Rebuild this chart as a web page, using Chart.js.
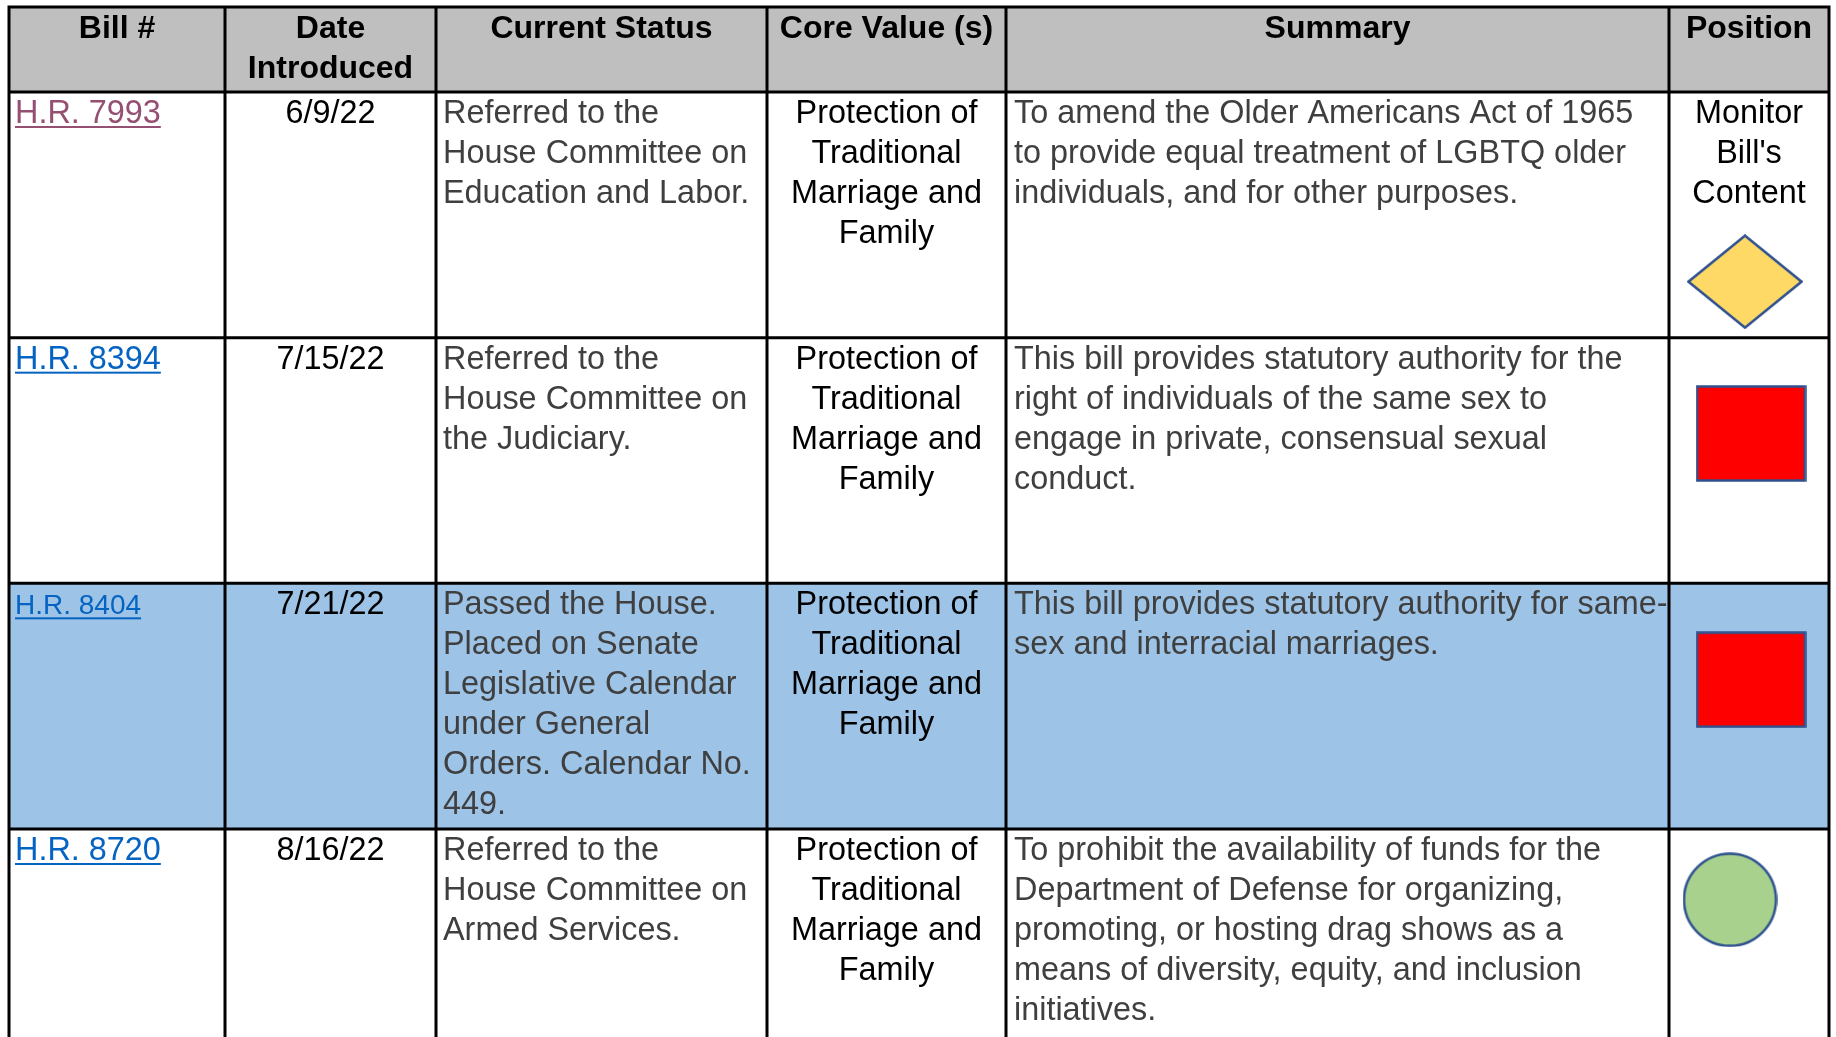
<!DOCTYPE html>
<html>
<head>
<meta charset="utf-8">
<title>Bills</title>
<script src="https://cdn.jsdelivr.net/npm/chart.js@4.4.1/dist/chart.umd.min.js"></script>
<style>
  html, body { margin: 0; padding: 0; background: #fff; }
  #wrap { width: 1836px; height: 1037px; }
</style>
</head>
<body>
<div id="wrap"><canvas id="myChart"></canvas></div>
<script>
// table content
var headers = ['Bill #', 'Date\nIntroduced', 'Current Status', 'Core Value (s)', 'Summary', 'Position'];
var bills = ['H.R. 7993', 'H.R. 8394', 'H.R. 8404', 'H.R. 8720'];
var billVisited = [true, false, false, false];
var dates = ['6/9/22', '7/15/22', '7/21/22', '8/16/22'];
var statuses = [
  'Referred to the\nHouse Committee on\nEducation and Labor.',
  'Referred to the\nHouse Committee on\nthe Judiciary.',
  'Passed the House.\nPlaced on Senate\nLegislative Calendar\nunder General\nOrders. Calendar No.\n449.',
  'Referred to the\nHouse Committee on\nArmed Services.'
];
var coreValues = [
  'Protection of\nTraditional\nMarriage and\nFamily',
  'Protection of\nTraditional\nMarriage and\nFamily',
  'Protection of\nTraditional\nMarriage and\nFamily',
  'Protection of\nTraditional\nMarriage and\nFamily'
];
var summaries = [
  'To amend the Older Americans Act of 1965\nto provide equal treatment of LGBTQ older\nindividuals, and for other purposes.',
  'This bill provides statutory authority for the\nright of individuals of the same sex to\nengage in private, consensual sexual\nconduct.',
  'This bill provides statutory authority for same-\nsex and interracial marriages.',
  'To prohibit the availability of funds for the\nDepartment of Defense for organizing,\npromoting, or hosting drag shows as a\nmeans of diversity, equity, and inclusion\ninitiatives.'
];
var positionText = ['Monitor\nBill\'s\nContent', '', '', ''];
var positions = ['monitor', 'oppose', 'oppose', 'support'];
var highlighted = [false, false, true, false];

// layout (pixels along x, row units along y)
var colEdges = [9, 225, 436, 767, 1006, 1669, 1829];
var colAlign = ['left', 'center', 'left', 'center', 'left', 'center'];
var headerHeight = 0.346;
var markerDx = [-4, 2, 2, -19];
var markerDy = [0.772, 0.39, 0.392, 0.288];

var FONT = '"Liberation Sans", Arial, sans-serif';
var BODY = '32.4px ' + FONT;

function makeMarker(kind) {
  var c = document.createElement('canvas');
  var w, h;
  if (kind === 'monitor') { w = 116; h = 95; }
  else if (kind === 'oppose') { w = 111; h = 97; }
  else { w = 95; h = 95; }
  c.width = w; c.height = h;
  var g = c.getContext('2d');
  g.lineWidth = 2.5;
  g.strokeStyle = '#2F528F';
  g.beginPath();
  if (kind === 'monitor') {
    g.fillStyle = '#FFD966';
    g.moveTo(w / 2, 1.5); g.lineTo(w - 1.5, h / 2); g.lineTo(w / 2, h - 1.5); g.lineTo(1.5, h / 2);
    g.closePath();
  } else if (kind === 'oppose') {
    g.fillStyle = '#FF0000';
    g.rect(1.5, 1.5, w - 3, h - 3);
  } else {
    g.fillStyle = '#A9D18E';
    g.ellipse(w / 2, h / 2, w / 2 - 1.5, h / 2 - 1.5, 0, 0, Math.PI * 2);
  }
  g.fill();
  g.stroke();
  return c;
}

var markerImgs = {};
['monitor', 'oppose', 'support'].forEach(function (k) { markerImgs[k] = makeMarker(k); });

var markerData = positions.map(function (p, i) {
  return { x: (colEdges[5] + colEdges[6]) / 2 + markerDx[i], y: i + markerDy[i] };
});

var tablePlugin = {
  id: 'table',
  beforeDatasetsDraw: function (chart) {
    var ctx = chart.ctx;
    var xs = chart.scales.x, ys = chart.scales.y;
    var px = function (v) { return xs.getPixelForValue(v); };
    var py = function (v) { return ys.getPixelForValue(v); };
    var left = px(colEdges[0]), right = px(colEdges[colEdges.length - 1]);
    var nRows = bills.length;

    ctx.save();
    // backgrounds
    ctx.fillStyle = '#BFBFBF';
    ctx.fillRect(left, py(-headerHeight), right - left, py(0) - py(-headerHeight));
    for (var r = 0; r < nRows; r++) {
      if (highlighted[r]) {
        ctx.fillStyle = '#9DC3E6';
        ctx.fillRect(left, py(r), right - left, py(r + 1) - py(r));
      }
    }

    function cellText(text, col, top, opts) {
      var lines = text.split('\n');
      var x0 = px(colEdges[col]), x1 = px(colEdges[col + 1]);
      var x, align = colAlign[col];
      if (opts.center || align === 'center') { x = (x0 + x1) / 2; ctx.textAlign = 'center'; }
      else { x = x0 + (opts.pad || 7); ctx.textAlign = 'left'; }
      ctx.font = opts.font;
      ctx.fillStyle = opts.color;
      ctx.textBaseline = 'alphabetic';
      lines.forEach(function (ln, i) {
        var yb = top + opts.first + i * 40;
        ctx.fillText(ln, x, yb);
        if (opts.underline) {
          var w = ctx.measureText(ln).width;
          ctx.fillRect(x, yb + 3, w, 2);
        }
      });
    }

    // header
    headers.forEach(function (h, c) {
      cellText(h, c, py(-headerHeight), { font: 'bold 32px ' + FONT, color: '#000', first: 31, center: true });
    });

    // body rows
    for (var i = 0; i < nRows; i++) {
      var top = py(i);
      var linkColor = billVisited[i] ? '#954F72' : '#0563C1';
      var linkFont = highlighted[i] ? '28px ' + FONT : BODY;
      cellText(bills[i], 0, top, { font: linkFont, color: linkColor, first: 31, pad: 6, underline: true });
      cellText(dates[i], 1, top, { font: BODY, color: '#000', first: 31 });
      cellText(statuses[i], 2, top, { font: BODY, color: '#3F3F3F', first: 31, pad: 7 });
      cellText(coreValues[i], 3, top, { font: BODY, color: '#000', first: 31 });
      cellText(summaries[i], 4, top, { font: BODY, color: '#3F3F3F', first: 31, pad: 8 });
      if (positionText[i]) {
        cellText(positionText[i], 5, top, { font: BODY, color: '#000', first: 31 });
      }
    }

    // grid lines
    ctx.strokeStyle = '#000';
    ctx.lineWidth = 3;
    ctx.beginPath();
    var yTop = py(-headerHeight), yBot = py(nRows + 1);
    colEdges.forEach(function (e) {
      ctx.moveTo(px(e), yTop); ctx.lineTo(px(e), yBot);
    });
    ctx.moveTo(left - 1.5, yTop); ctx.lineTo(right + 1.5, yTop);
    for (var k = 0; k <= nRows; k++) {
      ctx.moveTo(left - 1.5, py(k)); ctx.lineTo(right + 1.5, py(k));
    }
    ctx.stroke();
    ctx.restore();
  }
};

var ctx = document.getElementById('myChart');
var myChart = new Chart(ctx, {
  type: 'scatter',
  data: {
    datasets: [{
      label: 'Position',
      data: markerData,
      pointStyle: positions.map(function (p) { return markerImgs[p]; }),
      pointRadius: 50,
      pointHoverRadius: 50
    }]
  },
  options: {
    responsive: true,
    maintainAspectRatio: false,
    animation: false,
    events: [],
    layout: { padding: 0, autoPadding: false },
    plugins: { legend: { display: false }, tooltip: { enabled: false } },
    scales: {
      x: { type: 'linear', display: false, min: 0, max: 1836 },
      y: { type: 'linear', display: false, reverse: true, min: -0.3745, max: 3.8467 }
    }
  },
  plugins: [tablePlugin]
});
</script>
</body>
</html>
